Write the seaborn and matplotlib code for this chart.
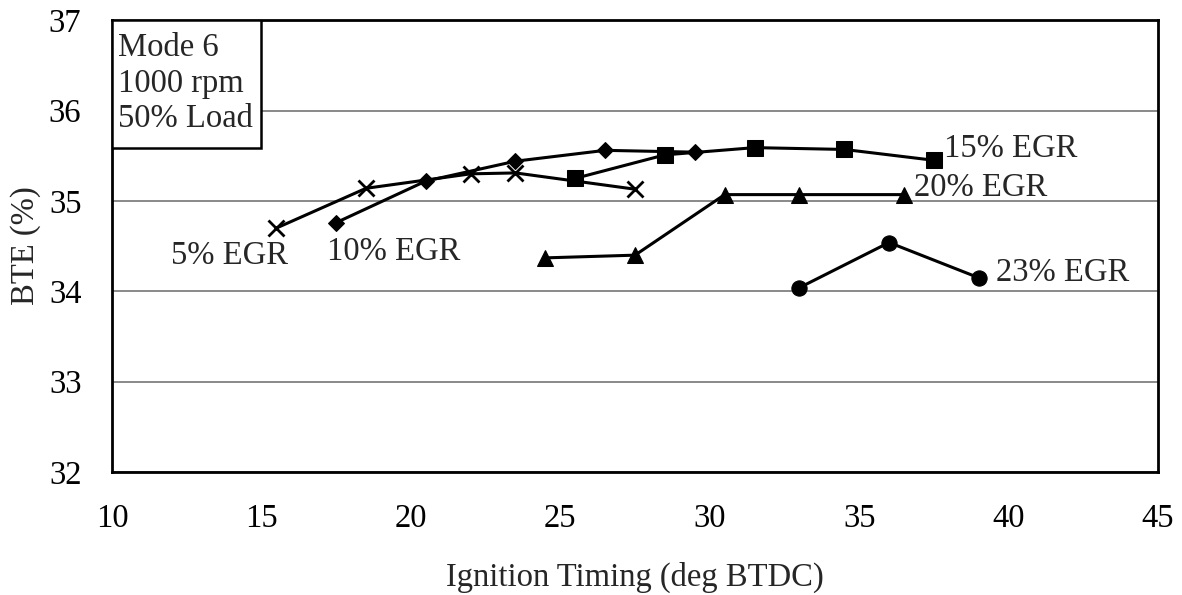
import pandas as pd
import seaborn as sns
import matplotlib.pyplot as plt
from matplotlib.patches import Rectangle

# Data (ignition timing in deg BTDC, BTE in %)
egr5_x = [15.5, 18.5, 22.0, 23.5, 27.5]
egr5_y = [34.70, 35.14, 35.30, 35.31, 35.13]

egr10_x = [17.5, 20.5, 23.5, 26.5, 29.5]
egr10_y = [34.76, 35.22, 35.44, 35.56, 35.54]

egr15_x = [25.5, 28.5, 31.5, 34.5, 37.5]
egr15_y = [35.25, 35.51, 35.59, 35.57, 35.45]

egr20_x = [24.5, 27.5, 30.5, 33.0, 36.5]
egr20_y = [34.37, 34.40, 35.07, 35.07, 35.07]

egr23_x = [33.0, 36.0, 39.0]
egr23_y = [34.04, 34.54, 34.15]

series_names = ["5% EGR", "10% EGR", "15% EGR", "20% EGR", "23% EGR"]
info_lines = ["Mode 6", "1000 rpm", "50% Load"]

sns.set_theme(style="white")
plt.rcParams["font.family"] = ["Liberation Serif", "DejaVu Serif"]
plt.rcParams["font.size"] = 23

fig, ax = plt.subplots(figsize=(11.82, 5.95), dpi=100)
fig.subplots_adjust(left=0.0948, right=0.9797, top=0.966, bottom=0.2067)

# one call per series (filled and line-art markers mixed)
styles = [
    (egr5_x, egr5_y, dict(marker="x", markersize=11, markeredgewidth=2.0)),
    (egr10_x, egr10_y, dict(marker="D", markersize=8.5)),
    (egr15_x, egr15_y, dict(marker="s", markersize=11)),
    (egr20_x, egr20_y, dict(marker="^", markersize=11)),
    (egr23_x, egr23_y, dict(marker="o", markersize=11)),
]
for (xs, ys, kw), name in zip(styles, series_names):
    df = pd.DataFrame({"timing": xs, "bte": ys})
    sns.lineplot(data=df, x="timing", y="bte", ax=ax, color="black",
                 linewidth=2.2, markeredgecolor="black",
                 markerfacecolor="black", label=None, legend=False, **kw)

# series labels
ax.text(13.93, 34.39, "5% EGR", ha="center", va="center", fontsize=23.5)
ax.text(19.43, 34.44, "10% EGR", ha="center", va="center", fontsize=23.5)
ax.text(37.85, 35.58, "15% EGR", ha="left", va="center", fontsize=23.5)
ax.text(36.85, 35.15, "20% EGR", ha="left", va="center", fontsize=23.5)
ax.text(39.57, 34.21, "23% EGR", ha="left", va="center", fontsize=23.5)

# info box in upper left
ax.add_patch(Rectangle((10, 35.59), 5.0, 1.41, facecolor="white",
                       edgecolor="black", linewidth=1.8, zorder=5))
ax.text(10.2, 36.86, "\n".join(info_lines), ha="left", va="top",
        fontsize=23.5, linespacing=1.2, zorder=6)

ax.set_xlim(10, 45)
ax.set_ylim(32, 37)
ax.set_xticks(range(10, 46, 5))
ax.set_yticks(range(32, 38))
ax.yaxis.grid(True, color="#808080", linewidth=1.3)
ax.xaxis.grid(False)
ax.set_axisbelow(True)

for side in ["left", "bottom", "right", "top"]:
    ax.spines[side].set_color("black")
    ax.spines[side].set_linewidth(2.0)

ax.tick_params(axis="both", which="major", direction="out", length=7,
               width=1.2, color="black", labelsize=23.5, labelcolor="black")
ax.tick_params(axis="y", pad=15)
ax.tick_params(axis="x", pad=16)

ax.set_xlabel("Ignition Timing (deg BTDC)", fontsize=23.5, labelpad=20)
ax.set_ylabel("BTE (%)", fontsize=23.5, labelpad=6)

fig.savefig("out.png", dpi=100, facecolor="white")
